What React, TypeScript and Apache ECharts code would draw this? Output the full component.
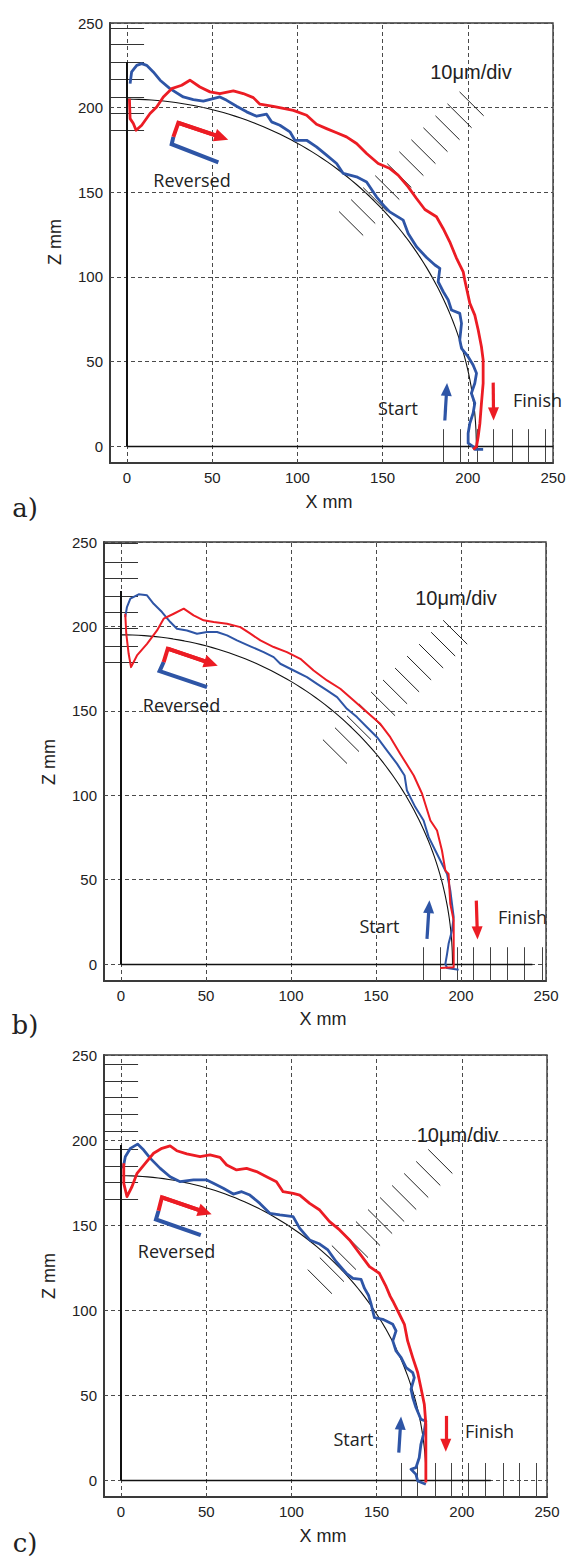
import React, { useEffect, useRef } from "react";
import * as echarts from "echarts";

type Pt = [number, number];

// ---------- shared tick values ----------
const TICKS = [0, 50, 100, 150, 200, 250];

// ---------- panel a ----------
const A_RADIUS = 205;
const A_BLUE: Pt[] = [
  [209, -1.9], [204.1, -1.9], [203.1, -0.3], [200.2, 1.7], [200.2, 7.6], [201.2, 13.5], [203.1, 19.4],
  [204.1, 25.3], [202.1, 31.2], [204.1, 37.1], [205.1, 43], [203.1, 47.9], [200.2, 52.8], [196.3, 57.8],
  [195.3, 62.7], [196.3, 72.5], [195.3, 78.4], [190.4, 80.4], [188.5, 86.3], [185.6, 91.2], [182.6, 97.1],
  [183.6, 105], [180.7, 107], [175.8, 111.4], [169.9, 117.8], [165, 125.6], [162.1, 133.5], [154.2, 138.4],
  [151.3, 141.4], [146.4, 147.3], [140.6, 156.1], [134.7, 159.1], [126.9, 161.1], [123, 167], [117.1, 171.9],
  [111.2, 176.8], [105.4, 180.7], [98.5, 180.7], [95.6, 185.7], [89.7, 189.6], [84.8, 191.6], [81.9, 196.1],
  [76.1, 194.9], [70.2, 197.5], [64.3, 200.8], [58.5, 204.3], [54.5, 206.3], [50.6, 205.3], [44.8, 203.8],
  [38.9, 204.7], [33, 206.3], [25.2, 211.2], [19.4, 216.2], [15.4, 221.1], [11.5, 225], [8.6, 226],
  [5.7, 225], [2.7, 221.1], [1.8, 214.2],
];
const A_RED: Pt[] = [
  [1.4, 205.3], [1.8, 193.5], [3.7, 190.6], [5.3, 186.6], [8.6, 189.6], [13.5, 196.5], [17.4, 200.4],
  [21.3, 206.3], [26.2, 211.2], [32.1, 213.2], [36.9, 216.2], [42.8, 212.2], [48.7, 209.3], [54.5, 208.3],
  [62.4, 209.9], [68.2, 208.3], [74.1, 205.9], [78, 202], [85.8, 200.8], [97.6, 198.4], [105.4, 195.5],
  [111.2, 190.2], [117.1, 187.6], [123, 185.1], [128.8, 182.7], [134.7, 178.8], [140.6, 172.9], [147.4, 167],
  [154.3, 164], [159.1, 160.1], [165, 153.2], [169.9, 146.3], [174.8, 139.8], [181.6, 135.5], [185.5, 128.6],
  [189.4, 120.7], [193.2, 111.4], [197.3, 103], [198.2, 98.1], [201.2, 84.3], [204.1, 77.4], [206.1, 68.6],
  [208, 58.7], [209, 50.9], [209, 37.1], [208, 25.3], [207.1, 13.5], [206.1, 5.6], [205.1, -0.3], [203.1, -1.9],
];
const A_HMARKS = [186.6, 196.7, 206.1, 216.8, 226.8, 237.4, 246.9];
const A_VMARKS = [185.3, 195.3, 205.3, 214.7, 225.8, 235.2, 245.7];
const A_DMARKS = [186, 196, 206, 216, 226, 236, 246, 256, 266, 276, 286];

// ---------- panel b ----------
const B_RADIUS = 195;
const B_BLUE: Pt[] = [
  [198.6, -3.3], [191.8, -2.3], [190.8, 0.1], [191.8, 6], [192.7, 12], [194.7, 19.9], [195.7, 27.8],
  [194.7, 35.7], [193.7, 43.6], [191.8, 53.4], [188.8, 59.4], [184.9, 67.3], [181, 75.2], [178, 85.1],
  [173.1, 93], [168.2, 102.8], [166.8, 111.7], [162.4, 118.6], [156.5, 126.5], [150.6, 134.4], [144.7, 140.3],
  [138.8, 146.3], [132.9, 151.2], [127.1, 158.1], [121.2, 162.1], [115.3, 166], [109.4, 170], [101.6, 173.9],
  [93.7, 177.9], [89.8, 181.8], [83.9, 184.8], [76.1, 188.2], [68.2, 191.7], [62.4, 194.7], [56.5, 196.7],
  [50.6, 196.7], [44.7, 195.7], [38.8, 197.6], [32.9, 198.6], [29, 202.6], [24.1, 208.5], [19.2, 213.4],
  [15.3, 218.4], [10.4, 219], [5.5, 216.4], [3.5, 211.5], [2.5, 205.5],
];
const B_RED: Pt[] = [
  [2.5, 207.5], [3.1, 195.7], [4.5, 183.8], [5.9, 175.9], [9.4, 182.8], [15.3, 189.7], [21.2, 197.6],
  [25.1, 204.6], [31, 207.5], [36.9, 210.5], [42.7, 206.5], [48.6, 203.6], [54.5, 202.6], [62.4, 201.6],
  [70.2, 199.6], [76.1, 195.7], [82, 191.7], [89.8, 187.8], [97.6, 184.8], [105.5, 180.8], [113.3, 173.9],
  [121.2, 168], [129, 163.1], [136.9, 156.1], [144.7, 149.2], [152.5, 142.3], [158.4, 134.4], [164.3, 124.5],
  [172.2, 111.7], [177.1, 100.9], [182, 85.1], [185.9, 79.1], [188.8, 67.3], [190.8, 55.4], [192.7, 53.4],
  [193.7, 35.7], [195.7, 25.8], [195.7, -1.9], [187.8, -2.3],
];
const B_HMARKS = [178.5, 188.4, 198.7, 208.2, 218, 228.3, 238.1, 249];
const B_VMARKS = [178, 187.8, 197.6, 207.4, 217.2, 227, 237.2, 247.6];
const B_DMARKS = [178, 188, 198, 208, 218, 228, 238, 248, 258, 268, 278];

// ---------- panel c ----------
const C_RADIUS = 179;
const C_BLUE: Pt[] = [
  [178.9, -2.5], [174.1, -0.6], [173.1, 3.3], [170.2, 6.3], [173.1, 7.3], [175, 13.1], [176, 21],
  [178, 28.8], [178.9, 34.7], [176, 35.7], [173.1, 42.6], [171.2, 48.5], [170.2, 53.4], [172.1, 60.2],
  [171.2, 63.2], [167.3, 66.1], [164.4, 72], [161.4, 75.9], [159.5, 81.8], [161.4, 87.7], [159.5, 91.6],
  [153.6, 94.5], [148.7, 95.5], [146.8, 103.4], [145.3, 108.5], [142.9, 112.7], [140.9, 118], [136.1, 118.6],
  [132.2, 121.6], [126.3, 128.4], [121.4, 135.3], [116.6, 138.8], [110.7, 141.2], [104.9, 148], [101, 154.9],
  [93.2, 155.9], [87.3, 156.9], [81.5, 162.7], [75.6, 167.6], [70.8, 169.6], [65.9, 168.2], [60, 171.6],
  [54.2, 174.5], [50.3, 176.5], [42.5, 176.5], [34.7, 175.5], [28.8, 178.4], [23, 183.3], [17.2, 189.2],
  [13.3, 194.1], [9.7, 197.6], [5.5, 195.1], [2.5, 190.2], [1.2, 183.3],
];
const C_RED: Pt[] = [
  [1.6, 186.3], [1.6, 174.5], [3.5, 166.7], [6.4, 172.5], [9.4, 180.4], [14.2, 186.3], [19.1, 192.2],
  [24, 195.1], [28.8, 196.5], [32.7, 193.7], [38.6, 191.8], [46.4, 190.2], [52.2, 191.2], [58.1, 189.8],
  [62, 185.3], [67.8, 182.4], [73.7, 183.3], [79.5, 181.4], [85.4, 178.4], [91.2, 175.5], [95.1, 169.6],
  [101, 168.6], [104.9, 167.6], [110.7, 162.7], [116.6, 158.8], [122.4, 152], [128.3, 147.1], [134.1, 141.2],
  [140, 133.3], [145.8, 125.5], [151.6, 121.6], [155.6, 113.7], [158, 108], [159.5, 105.3], [163.4, 97.5],
  [166.3, 91.6], [168.2, 81.8], [171.2, 72], [174.1, 63.2], [176, 54.3], [178, 44.5], [178.9, 32.8],
  [178.9, 21], [178.9, 1.4], [178.9, -1.5],
];
const C_HMARKS = [165.1, 174.9, 184.7, 194.5, 205.3, 215.1, 224.9, 234.7, 244.5];
const C_VMARKS = [164.3, 174, 184.2, 193.9, 203.9, 214, 224.2, 234, 243.6];
const C_DMARKS = [165, 175, 185, 195, 205, 215, 225, 235, 245, 255, 265];

// ---------- text ----------
const SCALE_TEXT = "10μm/div";
const REVERSED_TEXT = "Reversed";
const START_TEXT = "Start";
const FINISH_TEXT = "Finish";
const X_NAME = "X mm";
const Y_NAME = "Z mm";
const PANEL_TAGS = ["a)", "b)", "c)"];

// ---------- panel layout (pixels) and annotation anchors (data units) ----------
const PANELS = [
  {
    radius: A_RADIUS, red: A_RED, blue: A_BLUE, hMarks: A_HMARKS, vMarks: A_VMARKS, dMarks: A_DMARKS,
    lineW: 2.8, vAxisTop: 227, hAxisEnd: 250,
    grid: { left: 110, top: 23, width: 443, height: 440 },
    revRed: [[27.2, 182.7], [30.1, 191], [55.5, 182.4]] as Pt[],
    revBlue: [[27.2, 182.7], [26.2, 178.4], [53.6, 167.6]] as Pt[],
    upArrow: [[186.5, 15.1], [187.6, 33.5]] as Pt[],
    downArrow: [[214.9, 37.5], [215.1, 19]] as Pt[],
    scaleText: [471, 72], revText: [192, 180], startText: [398, 408], finishText: [513, 400],
    xName: [329, 502], yName: [55, 242], tag: [25, 508],
  },
  {
    radius: B_RADIUS, red: B_RED, blue: B_BLUE, hMarks: B_HMARKS, vMarks: B_VMARKS, dMarks: B_DMARKS,
    lineW: 2, vAxisTop: 221, hAxisEnd: 242,
    grid: { left: 104, top: 542, width: 442, height: 439 },
    revRed: [[25.1, 178.9], [27.5, 186.8], [53, 178.1]] as Pt[],
    revBlue: [[25.1, 178.9], [22.7, 173.5], [50.6, 164]] as Pt[],
    upArrow: [[180, 14.9], [181.2, 34]] as Pt[],
    downArrow: [[209, 37.6], [209.6, 18.5]] as Pt[],
    scaleText: [456, 598], revText: [181.5, 705], startText: [379.5, 926], finishText: [498, 917],
    xName: [323, 1019], yName: [49, 762], tag: [25, 1025],
  },
  {
    radius: C_RADIUS, red: C_RED, blue: C_BLUE, hMarks: C_HMARKS, vMarks: C_VMARKS, dMarks: C_DMARKS,
    lineW: 2.8, vAxisTop: 197, hAxisEnd: 217,
    grid: { left: 104, top: 1055, width: 443, height: 442 },
    revRed: [[22, 158.4], [24, 166.3], [49.3, 157.6]] as Pt[],
    revBlue: [[22, 158.4], [20.5, 153.3], [46.8, 144.1]] as Pt[],
    upArrow: [[163, 16.1], [164.1, 33.5]] as Pt[],
    downArrow: [[190.6, 37.7], [190.6, 20.5]] as Pt[],
    scaleText: [457.5, 1134.5], revText: [176.5, 1251], startText: [353.5, 1439], finishText: [465, 1431],
    xName: [323, 1536], yName: [49, 1276], tag: [25, 1543],
  },
];

const RED = "#ec1c24";
const BLUE = "#2e55a6";
const LABEL_FONT = '"Liberation Sans", Arial, sans-serif';
const NOTE_FONT = '"Open Sans", "Noto Sans", sans-serif';

function circlePoints(r: number): Pt[] {
  const pts: Pt[] = [];
  for (let d = 0; d <= 90; d += 1) {
    const a = (d * Math.PI) / 180;
    pts.push([r * Math.cos(a), r * Math.sin(a)]);
  }
  return pts;
}

function pairs(list: [Pt, Pt][]) {
  return list.map(([a, b]) => [{ coord: a }, { coord: b }]);
}

function markLine(data: any[], lineStyle: any) {
  return {
    silent: true,
    animation: false,
    symbol: ["none", "none"],
    label: { show: false },
    emphasis: { disabled: true },
    lineStyle,
    data,
  };
}

function buildSeries(p: any, gi: number) {
  const base = {
    type: "line",
    xAxisIndex: gi,
    yAxisIndex: gi,
    symbol: "none",
    showSymbol: false,
    silent: true,
    animation: false,
    emphasis: { disabled: true },
  };
  const gridPairs: [Pt, Pt][] = [
    ...TICKS.map((v) => [[v, -10], [v, 250]] as [Pt, Pt]),
    ...TICKS.map((v) => [[-10, v], [250, v]] as [Pt, Pt]),
  ];
  const h = 10 / Math.SQRT2;
  const diagPairs: [Pt, Pt][] = p.dMarks.map((r: number) => {
    const c = r / Math.SQRT2;
    return [[c - h, c + h], [c + h, c - h]];
  });
  const leftPairs: [Pt, Pt][] = p.hMarks.map((y: number) => [[-10, y], [10, y]]);
  const bottomPairs: [Pt, Pt][] = p.vMarks.map((x: number) => [[x, -10], [x, 10]]);

  const arrowLine = (pts: Pt[], color: string, w: number, size: number[]) =>
    markLine(
      [[
        { coord: pts[0], symbol: "none" },
        { coord: pts[1], symbol: "triangle", symbolSize: size },
      ]],
      { color, width: w, type: "solid", cap: "butt" }
    );

  return [
    {
      ...base, name: "grid", data: [], z: 1,
      markLine: markLine(pairs(gridPairs), { color: "#4a4a4a", width: 1, type: [4, 3] }),
    },
    {
      ...base, name: "scale-left", data: [], z: 2,
      markLine: markLine(pairs(leftPairs), { color: "#333", width: 1, type: "solid" }),
    },
    {
      ...base, name: "scale-bottom", data: [], z: 2,
      markLine: markLine(pairs(bottomPairs), { color: "#444", width: 1, type: "solid" }),
    },
    {
      ...base, name: "scale-diag", data: [], z: 2,
      markLine: markLine(pairs(diagPairs), { color: "#222", width: 1, type: "solid" }),
    },
    {
      ...base, name: "axes0", data: [], z: 3,
      markLine: markLine(
        [
          [{ coord: [0, 0], lineStyle: { width: 2 } }, { coord: [0, p.vAxisTop] }],
          [{ coord: [0, 0], lineStyle: { width: 1.3 } }, { coord: [p.hAxisEnd, 0] }],
        ],
        { color: "#111", type: "solid" }
      ),
    },
    {
      ...base, name: "nominal", data: circlePoints(p.radius), z: 4,
      lineStyle: { color: "#111", width: 1.1 },
    },
    {
      ...base, name: "blue", data: p.blue, z: 5,
      lineStyle: { color: BLUE, width: p.lineW, join: "round" },
    },
    {
      ...base, name: "red", data: p.red, z: 6,
      lineStyle: { color: RED, width: p.lineW, join: "round" },
    },
    {
      ...base, name: "rev-blue", data: p.revBlue, z: 7,
      lineStyle: { color: BLUE, width: 4, join: "miter", cap: "butt" },
    },
    {
      ...base, name: "rev-red", data: p.revRed, z: 8,
      lineStyle: { color: RED, width: 4, join: "miter", cap: "butt" },
      markLine: arrowLine([p.revRed[1], p.revRed[2]], RED, 4, [13, 14]),
    },
    {
      ...base, name: "start-arrow", data: [], z: 8,
      markLine: arrowLine(p.upArrow, BLUE, 3.2, [11, 13]),
    },
    {
      ...base, name: "finish-arrow", data: [], z: 8,
      markLine: arrowLine(p.downArrow, RED, 3.2, [11, 13]),
    },
  ];
}

function txt(text: string, x: number, y: number, font: string, align = "center", rotation = 0) {
  return {
    type: "text",
    x,
    y,
    rotation,
    silent: true,
    z: 100,
    style: {
      text,
      font,
      fill: "#222",
      align,
      verticalAlign: "middle",
      textAlign: align,
      textVerticalAlign: "middle",
    },
  };
}

export default function App() {
  const ref = useRef<HTMLDivElement>(null);

  useEffect(() => {
    if (!ref.current) return;
    document.body.style.margin = "0";
    const chart = echarts.init(ref.current, null, { renderer: "svg" });

    const grids = PANELS.map((p) => ({
      ...p.grid,
      show: true,
      borderColor: "#3a3a3a",
      borderWidth: 1.4,
      backgroundColor: "transparent",
      containLabel: false,
    }));

    const axisCommon = (gi: number) => ({
      type: "value",
      gridIndex: gi,
      min: -10,
      max: 250,
      interval: 10,
      axisLine: { show: true, onZero: false, lineStyle: { color: "#3a3a3a", width: 2 } },
      axisTick: { show: false },
      splitLine: { show: false },
      axisLabel: {
        formatter: (v: number) => (Math.round(v) % 50 === 0 ? String(Math.round(v)) : ""),
        color: "#222",
        fontSize: 15,
        fontFamily: LABEL_FONT,
        margin: 7,
      },
    });

    const xAxis = PANELS.map((_, i) => ({ ...axisCommon(i) }));
    const yAxis = PANELS.map((_, i) => ({ ...axisCommon(i) }));

    const series: any[] = [];
    PANELS.forEach((p, i) => series.push(...buildSeries(p, i)));

    const graphic: any[] = [];
    PANELS.forEach((p, i) => {
      graphic.push(txt(SCALE_TEXT, p.scaleText[0], p.scaleText[1], `20px ${LABEL_FONT}`));
      graphic.push(txt(REVERSED_TEXT, p.revText[0], p.revText[1], `18px ${NOTE_FONT}`));
      graphic.push(txt(START_TEXT, p.startText[0], p.startText[1], `18px ${NOTE_FONT}`));
      graphic.push(txt(FINISH_TEXT, p.finishText[0], p.finishText[1], `18px ${NOTE_FONT}`, "left"));
      graphic.push(txt(X_NAME, p.xName[0], p.xName[1], `18px ${LABEL_FONT}`));
      graphic.push(txt(Y_NAME, p.yName[0], p.yName[1], `18px ${LABEL_FONT}`, "center", Math.PI / 2));
      graphic.push(txt(PANEL_TAGS[i], p.tag[0], p.tag[1], `26px "DejaVu Serif", serif`));
    });

    chart.setOption({
      animation: false,
      backgroundColor: "#ffffff",
      grid: grids,
      xAxis,
      yAxis,
      series,
      graphic,
    });

    return () => chart.dispose();
  }, []);

  return (
    <div
      ref={ref}
      style={{ position: "absolute", left: 0, top: 0, width: 569, height: 1560, background: "#fff" }}
    />
  );
}
